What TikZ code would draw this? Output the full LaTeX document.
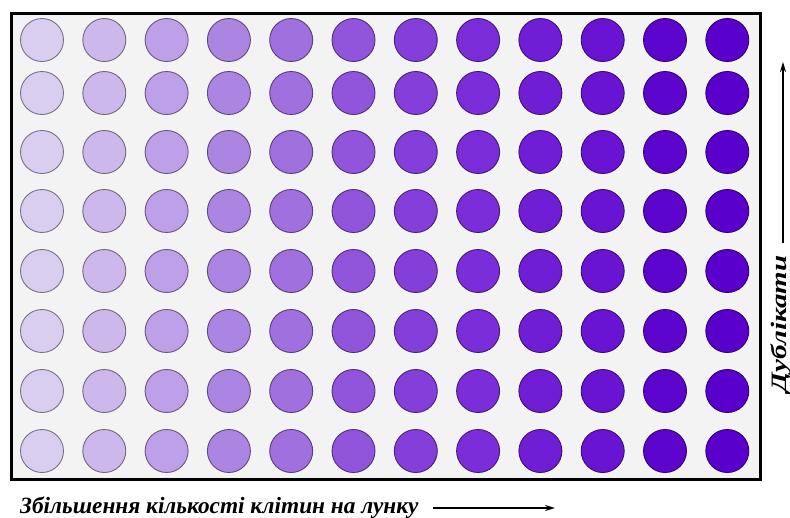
\documentclass[tikz,border=0pt]{standalone}
\usepackage{fontspec}
\setmainfont{Liberation Serif}
\usetikzlibrary{arrows.meta}
\definecolor{w1}{RGB}{218,206,240}
\definecolor{w2}{RGB}{205,184,236}
\definecolor{w3}{RGB}{190,160,232}
\definecolor{w4}{RGB}{172,132,226}
\definecolor{w5}{RGB}{160,112,222}
\definecolor{w6}{RGB}{145,85,220}
\definecolor{w7}{RGB}{132,62,218}
\definecolor{w8}{RGB}{122,45,216}
\definecolor{w9}{RGB}{112,30,214}
\definecolor{w10}{RGB}{105,20,210}
\definecolor{w11}{RGB}{92,5,204}
\definecolor{w12}{RGB}{90,0,204}
\definecolor{platebg}{RGB}{243,243,243}
\tikzset{
  well/.style={circle, minimum size=43pt, inner sep=0pt, line width=0.9pt},
  plate/.style={draw=black, line width=3pt, fill=platebg},
  lbl/.style={font=\bfseries\itshape\fontsize{23.3}{27}\selectfont, inner sep=0pt},
  arr/.style={line width=1.7pt, -{Stealth[length=10pt,width=6pt]}}
}
\begin{document}
\begin{tikzpicture}[x=1pt,y=-1pt]
\useasboundingbox[fill=white] (0,0) rectangle (790,517);
\draw[plate] (11,13) rectangle (760,479);
\foreach \r/\y in {1/40,2/93,3/152,4/211,5/271,6/331,7/391,8/451}{
  \foreach \c in {1,...,12}{
    \pgfmathsetmacro{\xx}{42+(\c-1)*62.3}
    \node[well, fill=w\c, draw=w\c!55!black] (c-\r-\c) at (\xx,\y) {};
  }
}
\node[lbl, anchor=base west] (xlab) at (20,513) {Збільшення кількості клітин на лунку};
\coordinate (xa) at (433,508);
\coordinate (xb) at (555,508);
\draw[arr] (xa) -- (xb);
\node[lbl, rotate=90, anchor=base west, font=\bfseries\itshape\fontsize{22}{26}\selectfont] (ylab) at (786,393) {\scalebox{1.32}[1]{Дублікати}};
\coordinate (ya) at (783,243);
\coordinate (yb) at (783,62);
\draw[arr] (ya) -- (yb);
\end{tikzpicture}
\end{document}
